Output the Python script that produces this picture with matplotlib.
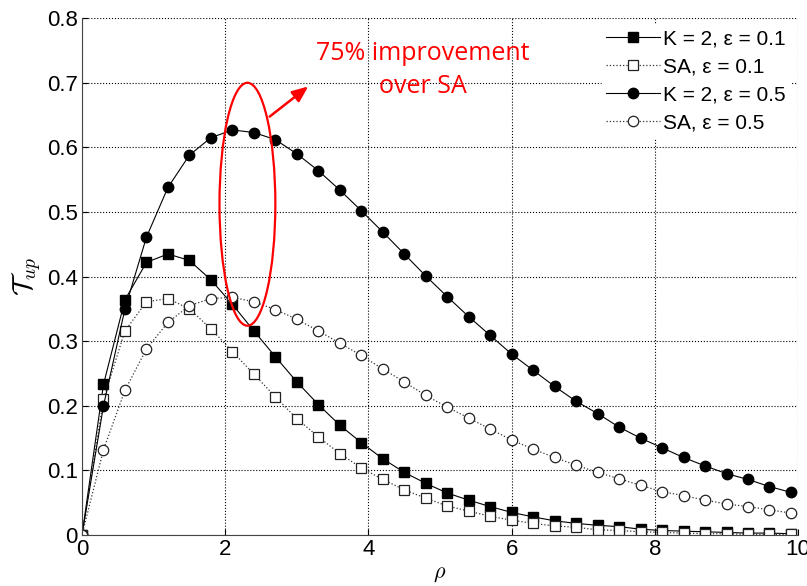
import matplotlib
matplotlib.use("Agg")
import matplotlib.pyplot as plt
from matplotlib.patches import Ellipse

plt.rcParams['font.family'] = ['Liberation Sans', 'DejaVu Sans']
plt.rcParams['mathtext.fontset'] = 'cm'

rho = [0.0, 0.3, 0.6, 0.9, 1.2, 1.5, 1.8, 2.1, 2.4, 2.7, 3.0, 3.3, 3.6, 3.9, 4.2, 4.5,
       4.8, 5.1, 5.4, 5.7, 6.0, 6.3, 6.6, 6.9, 7.2, 7.5, 7.8, 8.1, 8.4, 8.7, 9.0, 9.3, 9.6, 9.9]

k2_eps01 = [0.0, 0.233, 0.364, 0.422, 0.435, 0.425, 0.395, 0.357, 0.316, 0.276, 0.237, 0.202,
            0.170, 0.143, 0.118, 0.097, 0.080, 0.065, 0.054, 0.044, 0.035, 0.028, 0.022, 0.018,
            0.015, 0.013, 0.009, 0.007, 0.006, 0.005, 0.004, 0.003, 0.003, 0.002]
sa_eps01 = [0.0, 0.210, 0.316, 0.361, 0.366, 0.350, 0.319, 0.284, 0.249, 0.214, 0.180, 0.152,
            0.126, 0.104, 0.086, 0.070, 0.057, 0.045, 0.037, 0.029, 0.023, 0.018, 0.014, 0.012,
            0.008, 0.007, 0.005, 0.004, 0.003, 0.002, 0.002, 0.001, 0.001, 0.001]
k2_eps05 = [0.0, 0.200, 0.350, 0.461, 0.538, 0.588, 0.615, 0.627, 0.623, 0.612, 0.590, 0.564,
            0.534, 0.502, 0.469, 0.435, 0.401, 0.369, 0.338, 0.309, 0.280, 0.255, 0.230, 0.207,
            0.188, 0.167, 0.150, 0.135, 0.120, 0.107, 0.095, 0.086, 0.075, 0.066]
sa_eps05 = [0.0, 0.132, 0.224, 0.288, 0.329, 0.355, 0.366, 0.368, 0.361, 0.349, 0.334, 0.316,
            0.297, 0.278, 0.257, 0.237, 0.216, 0.198, 0.181, 0.164, 0.147, 0.133, 0.120, 0.108,
            0.097, 0.087, 0.077, 0.067, 0.061, 0.054, 0.048, 0.044, 0.039, 0.034]

labels = ['K = 2, \u03b5 = 0.1', 'SA, \u03b5 = 0.1', 'K = 2, \u03b5 = 0.5', 'SA, \u03b5 = 0.5']
xticks = [0, 2, 4, 6, 8, 10]
yticks = [0, 0.1, 0.2, 0.3, 0.4, 0.5, 0.6, 0.7, 0.8]
ytick_labels = ['0', '0.1', '0.2', '0.3', '0.4', '0.5', '0.6', '0.7', '0.8']
annot_text = '75% improvement\nover SA'

fig = plt.figure(figsize=(8.07, 5.86), dpi=100)
ax = fig.add_axes([0.1016, 0.087, 0.8874, 0.882])

ax.plot(rho, k2_eps01, '-', color='black', lw=0.8, marker='s', ms=6.5,
        mfc='black', mec='black', label=labels[0])
ax.plot(rho, sa_eps01, ':', color='#333333', lw=0.9, marker='s', ms=6.5,
        mfc='white', mec='#222222', mew=0.9, label=labels[1])
ax.plot(rho, k2_eps05, '-', color='black', lw=0.8, marker='o', ms=7.5,
        mfc='black', mec='black', label=labels[2])
ax.plot(rho, sa_eps05, ':', color='#333333', lw=0.9, marker='o', ms=7.5,
        mfc='white', mec='#222222', mew=0.9, label=labels[3])

ax.set_xlim(0, 10)
ax.set_ylim(0, 0.8)
ax.set_xticks(xticks)
ax.set_xticklabels([str(t) for t in xticks])
ax.set_yticks(yticks)
ax.set_yticklabels(ytick_labels)
ax.tick_params(direction='in', labelsize=16, length=4, width=0.8, pad=3)
ax.spines['top'].set_visible(False)
ax.spines['right'].set_visible(False)
ax.spines['left'].set_color('#444444')
ax.spines['bottom'].set_color('#444444')
ax.grid(True, linestyle=':', color='black', lw=0.8)
ax.set_axisbelow(True)

ax.set_xlabel(r'$\rho$', fontsize=16, labelpad=2)
ax.set_ylabel(r'$\mathcal{T}_{up}$', fontsize=20, labelpad=2)

leg = ax.legend(loc='upper right', bbox_to_anchor=(0.989, 0.986), fontsize=15,
                frameon=True, fancybox=False, framealpha=1, edgecolor='white',
                handlelength=2.6, handletextpad=0.15, labelspacing=0.43,
                borderaxespad=0.0, borderpad=0.2)

ell = Ellipse((2.31, 0.512), width=0.78, height=0.376, fill=False,
              edgecolor='red', lw=1.6, zorder=5)
ax.add_patch(ell)
ax.annotate('', xy=(3.19, 0.697), xytext=(2.59, 0.645),
            arrowprops=dict(arrowstyle='-|>,head_length=0.6,head_width=0.25',
                            color='red', lw=1.8, mutation_scale=16), zorder=6)
ax.text(4.76, 0.72, annot_text, color='red', fontsize=18, ha='center',
        va='center', family=['Open Sans', 'DejaVu Sans'], linespacing=1.45, zorder=6)

fig.savefig('out.png', dpi=100)
